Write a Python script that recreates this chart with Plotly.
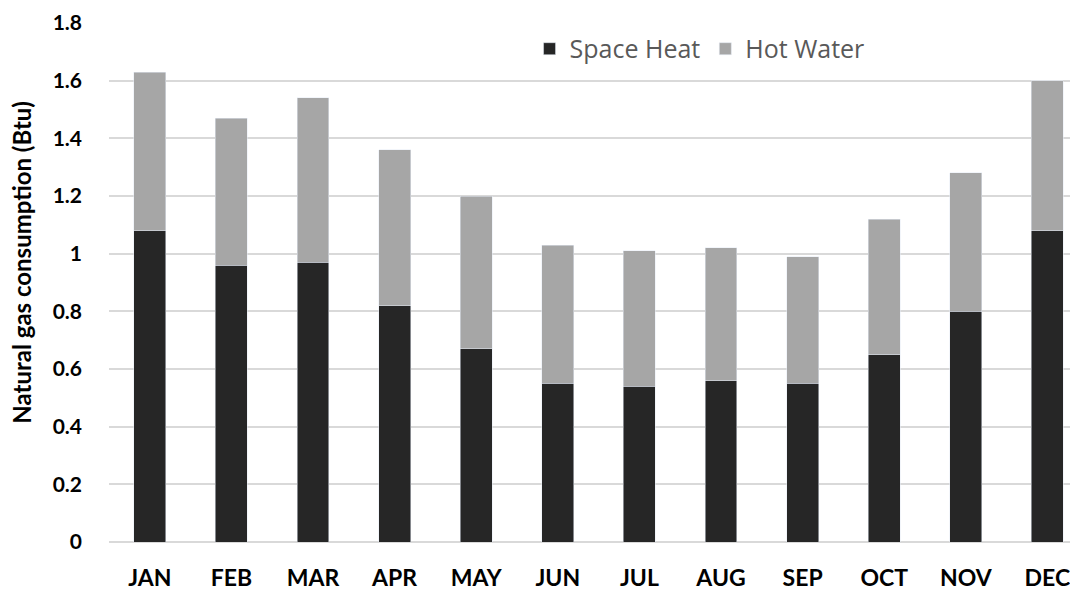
import plotly.graph_objects as go

months = ["JAN", "FEB", "MAR", "APR", "MAY", "JUN", "JUL", "AUG", "SEP", "OCT", "NOV", "DEC"]
space_heat = [1.08, 0.96, 0.97, 0.82, 0.67, 0.55, 0.54, 0.56, 0.55, 0.65, 0.80, 1.08]
hot_water = [0.55, 0.51, 0.57, 0.54, 0.53, 0.48, 0.47, 0.46, 0.44, 0.47, 0.48, 0.52]
y_ticks = [0, 0.2, 0.4, 0.6, 0.8, 1, 1.2, 1.4, 1.6, 1.8]
y_tick_labels = ["0", "0.2", "0.4", "0.6", "0.8", "1", "1.2", "1.4", "1.6", "1.8"]
y_title = "Natural gas consumption (Btu)"

fig = go.Figure()
fig.add_trace(go.Bar(x=months, y=space_heat, name="Space Heat", marker_color="#262626", width=0.39))
fig.add_trace(go.Bar(x=months, y=hot_water, name="Hot Water", marker_color="#A6A6A6", width=0.39))

# page body has an 8px margin, so the figure is 1070x584 and offset by 8px
fig.update_layout(
    barmode="stack",
    width=1070, height=584,
    margin=dict(l=101, r=0, t=15, b=50),
    plot_bgcolor="white", paper_bgcolor="white",
    font=dict(family="Lato", color="black"),
    legend=dict(orientation="h", x=0.434, y=0.95, xanchor="left", yanchor="middle",
                font=dict(family="Open Sans", size=25, color="#595959"),
                traceorder="normal", itemwidth=30, bgcolor="rgba(0,0,0,0)"),
    xaxis=dict(range=[-0.5, 11.375], showgrid=False, showline=False, ticks="",
               tickfont=dict(family="Lato", size=23, color="black", weight="bold"),
               ticklabelstandoff=20),
    yaxis=dict(range=[0, 1.8], tickvals=y_ticks, ticktext=y_tick_labels,
               showgrid=True, gridcolor="#D9D9D9", gridwidth=1.5, zeroline=True,
               zerolinecolor="#D9D9D9", zerolinewidth=1.5, showline=False, ticks="",
               tickfont=dict(family="Lato", size=21, color="black", weight="bold"),
               ticklabelstandoff=26),
    annotations=[dict(text=y_title, textangle=-90, xref="paper", yref="paper",
                      x=-0.0898, y=0.54, xanchor="center", yanchor="middle",
                      showarrow=False,
                      font=dict(family="Lato", size=24, color="black", weight="bold"))],
)

fig.write_html("out.html")
